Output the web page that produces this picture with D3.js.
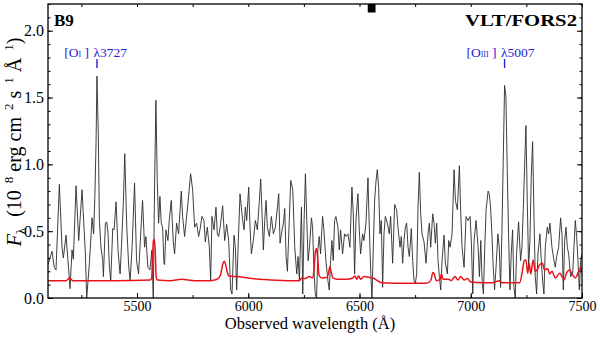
<!DOCTYPE html>
<html>
<head>
<meta charset="utf-8">
<script src="https://cdn.jsdelivr.net/npm/d3@7"></script>
<style>
body { margin: 0; background: #fff; }
text { font-family: "Liberation Serif", serif; }
</style>
</head>
<body>
<div id="main"></div>
<script>
// observed spectrum (Angstrom, 1e-18 erg/cm2/s/A)
const specWave = [5100, 5118, 5128, 5136, 5151, 5163, 5169, 5181, 5193, 5199, 5208, 5214, 5226, 5238, 5253, 5268, 5274, 5286, 5298, 5305, 5311, 5316, 5320, 5326, 5331, 5338, 5346, 5349, 5358, 5364, 5370, 5376, 5382, 5391, 5397, 5406, 5415, 5424, 5430, 5439, 5445, 5454, 5463, 5469, 5478, 5489, 5498, 5507, 5516, 5525, 5534, 5540, 5549, 5558, 5567, 5573, 5579, 5585, 5591, 5597, 5603, 5609, 5615, 5621, 5624, 5630, 5639, 5645, 5654, 5663, 5669, 5678, 5687, 5699, 5705, 5714, 5720, 5729, 5741, 5750, 5759, 5768, 5777, 5783, 5792, 5801, 5807, 5816, 5825, 5831, 5837, 5846, 5855, 5861, 5867, 5876, 5885, 5894, 5903,
  5912, 5921, 5927, 5936, 5942, 5948, 5954, 5963, 5969, 5975, 5981, 5987, 5993, 6002, 6008, 6014, 6023, 6032, 6041, 6050, 6056, 6062, 6068, 6074, 6080, 6086, 6095, 6104, 6113, 6122, 6131, 6137, 6143, 6149, 6158, 6164, 6170, 6176, 6185, 6191, 6200, 6209, 6218, 6224, 6230, 6239, 6245, 6251, 6257, 6263, 6269, 6275, 6284, 6289, 6295, 6301, 6307, 6313, 6319, 6325, 6334, 6340, 6349, 6358, 6364, 6370, 6376, 6382, 6388, 6394, 6403, 6409, 6415, 6424, 6433, 6439, 6448, 6457, 6466, 6472, 6478, 6484, 6493, 6499, 6505, 6514, 6520, 6529, 6538, 6544, 6550, 6556, 6562, 6568, 6574, 6580, 6586, 6592, 6598, 6604, 6610, 6616, 6625, 6634, 6640, 6649, 6658, 6667, 6673, 6682, 6688, 6694, 6700,
  6706, 6712, 6718, 6724, 6733, 6739, 6745, 6751, 6757, 6763, 6769, 6775, 6781, 6790, 6799, 6808, 6814, 6820, 6829, 6835, 6841, 6847, 6853, 6859, 6865, 6871, 6880, 6886, 6895, 6901, 6907, 6916, 6925, 6931, 6940, 6949, 6955, 6961, 6970, 6979, 6988, 6997, 7003, 7009, 7015, 7024, 7033, 7039, 7045, 7051, 7057, 7063, 7069, 7078, 7083, 7089, 7095, 7101, 7107, 7113, 7122, 7128, 7134, 7140, 7146, 7152, 7158, 7164, 7170, 7176, 7182, 7188, 7194, 7200, 7206, 7215, 7224, 7230, 7236, 7242, 7248, 7254, 7260, 7266, 7272, 7278, 7284, 7290, 7296, 7302, 7311, 7317, 7323, 7329, 7335, 7344, 7350, 7356, 7365, 7374, 7380, 7386, 7395, 7404, 7410, 7416, 7422, 7428, 7434, 7440, 7449, 7458, 7464, 7470, 7476, 7482, 7488, 7494, 7500];
const specFlux = [0.25, 0.35, 0.23, 0.21, 0.85, 0.38, 0.30, 0.47, 0.21, 0.07, 0.36, 0.29, 0.84, 0.43, 0.81, 0.33, 0.00, 0.26, 0.60, 0.48, 0.78, 1.16, 1.66, 1.23, 0.58, 0.38, 0.28, 0.16, 0.56, 0.57, 0.48, 0.23, 0.13, 0.52, 0.51, 0.72, 0.35, 0.18, 0.38, 0.73, 1.08, 0.53, 0.23, 0.13, 0.38, 0.86, 0.28, 0.18, 0.46, 0.73, 0.38, 0.46, 0.23, 0.21, 0.36, 0.00, 0.83, 1.48, 0.88, 0.56, 0.76, 0.56, 0.53, 0.26, 0.25, 0.51, 0.43, 0.58, 0.73, 0.42, 0.33, 0.56, 0.48, 0.80, 0.61, 0.46, 0.56, 0.71, 0.93, 0.81, 0.53, 0.56, 0.46, 0.51, 0.61, 0.58, 0.42, 0.53, 0.38, 0.13, 0.61, 0.51, 0.68, 0.48, 0.46, 0.56, 0.69, 0.43, 0.55,
  0.43, 0.06, 0.03, 0.47, 0.38, 0.06, 0.36, 0.78, 0.68, 0.58, 0.51, 0.68, 0.58, 0.83, 0.53, 0.33, 0.43, 0.58, 0.51, 0.73, 0.89, 0.63, 0.36, 0.58, 0.73, 0.53, 0.46, 0.61, 0.48, 0.53, 0.68, 0.78, 0.41, 0.48, 0.56, 0.67, 0.31, 0.20, 0.61, 0.88, 0.81, 0.38, 0.18, 0.31, 0.13, 0.68, 0.03, 0.58, 0.93, 0.58, 0.28, 0.38, 0.60, 0.53, 0.23, 0.03, 0.00, 0.36, 0.46, 0.33, 0.61, 0.51, 0.28, 0.13, 0.06, 0.28, 0.43, 0.28, 0.58, 0.61, 0.53, 0.36, 0.51, 0.33, 0.48, 0.46, 0.48, 0.38, 0.83, 0.63, 0.18, 0.58, 0.78, 0.51, 0.33, 0.48, 0.43, 0.56, 0.90, 0.53, 0.21, 0.00, 0.38, 0.73, 0.87, 0.96, 0.83, 0.48, 0.58, 0.08, 0.48, 0.61, 0.56, 0.48, 0.61, 0.26, 0.70, 0.66, 0.53, 0.38, 0.46, 0.26, 0.43,
  0.53, 0.56, 0.38, 0.31, 0.52, 0.28, 0.13, 0.11, 0.18, 0.68, 0.94, 0.63, 0.48, 0.42, 0.26, 0.48, 0.56, 0.38, 0.63, 0.56, 0.41, 0.56, 0.28, 0.16, 0.06, 0.28, 0.47, 0.26, 0.18, 0.43, 0.38, 0.48, 0.96, 0.73, 0.66, 0.99, 0.63, 0.38, 0.23, 0.61, 0.58, 0.61, 0.41, 0.03, 0.43, 0.58, 0.38, 0.16, 0.43, 0.13, 0.03, 0.38, 0.66, 0.80, 0.78, 0.68, 0.48, 0.23, 0.06, 0.21, 0.48, 0.38, 0.08, 0.48, 1.03, 1.59, 1.51, 0.96, 0.48, 0.06, 0.33, 0.51, 0.08, 0.00, 0.33, 0.57, 0.28, 0.38, 0.66, 0.98, 1.29, 0.73, 0.23, 0.43, 0.91, 1.17, 0.63, 0.16, 0.03, 0.33, 0.48, 0.28, 0.13, 0.03, 0.38, 0.53, 0.48, 0.56, 0.38, 0.28, 0.23, 0.31, 0.38, 0.60, 0.48, 0.06, 0.43, 0.53, 0.38, 0.33, 0.16, 0.18, 0.38, 0.58, 0.46, 0.28, 0.06, 0.28, 0.33];

// error spectrum
const errWave = [5100, 5180, 5190, 5196, 5204, 5210, 5400, 5560, 5566, 5570, 5574, 5578, 5582, 5586, 5592, 5650, 5700, 5760, 5830, 5860, 5875, 5885, 5892, 5898, 5905, 5912, 5950, 6000, 6050, 6100, 6200, 6230, 6240, 6255, 6275, 6290, 6297, 6302, 6307, 6312, 6318, 6330, 6355, 6362, 6367, 6372, 6380, 6400, 6440, 6470, 6480, 6488, 6496, 6505, 6520, 6540, 6560, 6580, 6600, 6700, 6800, 6820, 6830, 6836, 6845, 6862, 6868, 6876, 6900, 6912, 6930, 6942, 6955, 6970, 6985, 7000, 7050, 7100, 7128, 7140, 7220, 7232, 7240, 7248, 7256, 7262, 7270, 7280, 7290, 7300, 7310, 7322, 7332, 7345, 7355, 7365, 7380, 7400, 7410, 7420, 7430, 7445, 7455, 7470, 7485, 7495, 7500];
const errFlux = [0.13, 0.13, 0.14, 0.15, 0.14, 0.13, 0.13, 0.135, 0.15, 0.30, 0.43, 0.44, 0.35, 0.16, 0.135, 0.13, 0.14, 0.13, 0.13, 0.14, 0.17, 0.25, 0.275, 0.25, 0.20, 0.165, 0.16, 0.15, 0.14, 0.135, 0.13, 0.13, 0.15, 0.145, 0.16, 0.15, 0.24, 0.35, 0.37, 0.30, 0.17, 0.15, 0.155, 0.20, 0.235, 0.20, 0.15, 0.14, 0.14, 0.15, 0.165, 0.14, 0.165, 0.14, 0.16, 0.155, 0.15, 0.13, 0.115, 0.11, 0.11, 0.13, 0.19, 0.18, 0.13, 0.14, 0.18, 0.14, 0.14, 0.13, 0.16, 0.135, 0.16, 0.135, 0.145, 0.12, 0.115, 0.115, 0.13, 0.115, 0.115, 0.20, 0.28, 0.285, 0.185, 0.26, 0.18, 0.285, 0.20, 0.215, 0.25, 0.26, 0.21, 0.22, 0.18, 0.20, 0.15, 0.185, 0.16, 0.135, 0.185, 0.21, 0.18, 0.15, 0.20, 0.23, 0.20];

const xMajor = [5500, 6000, 6500, 7000, 7500];
const xMinor = [5250, 5500, 5750, 6000, 6250, 6500, 6750, 7000, 7250, 7500];
const yMajor = [0, 0.5, 1.0, 1.5, 2.0];
const yMinor = d3.range(0, 2.21, 0.1);

const lineNames = ["[O", "I", "]", "\u03bb3727"];
const lineNames2 = ["[O", "III", "]", "\u03bb5007"];
const lineWave = [5320, 7152];
const markerWave = [6537, 6572];

const margin = {top: 4, right: 18, bottom: 40, left: 48};
const width = 600, height = 338;

const x = d3.scaleLinear().domain([5100, 7500]).range([margin.left, width - margin.right]);
const y = d3.scaleLinear().domain([0, 2.2]).range([height - margin.bottom, margin.top]);

const svg = d3.select("#main").append("svg")
    .attr("width", width).attr("height", height);

svg.append("defs").append("clipPath").attr("id", "clip")
    .append("rect")
    .attr("x", margin.left).attr("y", margin.top)
    .attr("width", width - margin.left - margin.right)
    .attr("height", height - margin.top - margin.bottom);

const line = d3.line()
    .x(d => x(d[0]))
    .y(d => y(d[1]));

svg.append("path")
    .datum(specWave.map((w, i) => [w, specFlux[i]]))
    .attr("clip-path", "url(#clip)")
    .attr("fill", "none")
    .attr("stroke", "#2a2a2a")
    .attr("stroke-width", 0.9)
    .attr("d", line);

svg.append("path")
    .datum(errWave.map((w, i) => [w, errFlux[i]]))
    .attr("clip-path", "url(#clip)")
    .attr("fill", "none")
    .attr("stroke", "#e8141c")
    .attr("stroke-width", 1.5)
    .attr("stroke-linejoin", "round")
    .attr("d", d3.line().curve(d3.curveMonotoneX).x(d => x(d[0])).y(d => y(d[1])));

// axes, ticks pointing inwards
const yb = height - margin.bottom, yt = margin.top;
const xl = margin.left, xr = width - margin.right;

svg.append("g")
    .attr("transform", `translate(0,${yb})`)
    .call(d3.axisBottom(x).tickValues(xMajor).tickSizeInner(-5).tickSizeOuter(0).tickPadding(3).tickFormat(d3.format("d")))
    .call(g => g.select(".domain").remove())
    .call(g => g.selectAll("text").attr("font-size", 14).attr("font-family", "Liberation Serif").attr("fill", "#000"));
svg.append("g")
    .attr("transform", `translate(0,${yb})`)
    .call(d3.axisBottom(x).tickValues(xMinor).tickSizeInner(-3).tickSizeOuter(0).tickFormat(""))
    .call(g => g.select(".domain").remove());
svg.append("g")
    .attr("transform", `translate(0,${yt})`)
    .call(d3.axisTop(x).tickValues(xMinor).tickSizeInner(-3).tickSizeOuter(0).tickFormat(""))
    .call(g => g.select(".domain").remove());

svg.append("g")
    .attr("transform", `translate(${xl},0)`)
    .call(d3.axisLeft(y).tickValues(yMajor).tickSizeInner(-5).tickSizeOuter(0).tickPadding(4).tickFormat(d3.format(".1f")))
    .call(g => g.select(".domain").remove())
    .call(g => g.selectAll("text").attr("font-size", 16).attr("font-family", "Liberation Serif").attr("fill", "#000"));
svg.append("g")
    .attr("transform", `translate(${xl},0)`)
    .call(d3.axisLeft(y).tickValues(yMinor).tickSizeInner(-2.5).tickSizeOuter(0).tickFormat(""))
    .call(g => g.select(".domain").remove());
svg.append("g")
    .attr("transform", `translate(${xr},0)`)
    .call(d3.axisRight(y).tickValues(yMinor).tickSizeInner(-2.5).tickSizeOuter(0).tickFormat(""))
    .call(g => g.select(".domain").remove());
svg.append("g")
    .attr("transform", `translate(${xr},0)`)
    .call(d3.axisRight(y).tickValues(yMajor).tickSizeInner(-5).tickSizeOuter(0).tickFormat(""))
    .call(g => g.select(".domain").remove());

svg.selectAll(".tick line").attr("stroke", "#000").attr("stroke-width", 1);

svg.append("rect")
    .attr("x", xl).attr("y", yt)
    .attr("width", xr - xl).attr("height", yb - yt)
    .attr("fill", "none").attr("stroke", "#000").attr("stroke-width", 1.3);

// marker on top edge
svg.append("rect")
    .attr("x", x(markerWave[0])).attr("y", yt)
    .attr("width", x(markerWave[1]) - x(markerWave[0])).attr("height", 8.5)
    .attr("fill", "#000");

// labels inside
svg.append("text")
    .attr("x", xl + 6).attr("y", 26)
    .attr("font-family", "DejaVu Serif").attr("font-weight", "bold").attr("font-size", 17)
    .text("B9");
svg.append("text")
    .attr("x", xr - 5).attr("y", 26)
    .attr("text-anchor", "end")
    .attr("font-family", "DejaVu Serif").attr("font-weight", "bold").attr("font-size", 17)
    .attr("textLength", 112).attr("lengthAdjust", "spacingAndGlyphs")
    .text("VLT/FORS2");

// emission line ids
[lineNames, lineNames2].forEach((parts, i) => {
    const lx = x(lineWave[i]);
    const t = svg.append("text")
        .attr("y", 57)
        .attr("font-size", 13.5)
        .attr("fill", "#2424d8")
        .attr("text-anchor", "end")
        .attr("x", lx - 8)
        .style("white-space", "pre");
    t.append("tspan").text(parts[0]);
    t.append("tspan").attr("font-size", 8).text(parts[1]);
    t.append("tspan").text(" " + parts[2]);
    svg.append("text")
        .attr("x", lx - 3.5).attr("y", 57)
        .attr("font-size", 13.5)
        .attr("fill", "#2424d8")
        .text(parts[3]);
    svg.append("line")
        .attr("x1", lx).attr("x2", lx)
        .attr("y1", 59).attr("y2", 68)
        .attr("stroke", "#2424d8").attr("stroke-width", 1.4);
});

// axis titles
svg.append("text")
    .attr("x", 310).attr("y", 329)
    .attr("text-anchor", "middle")
    .attr("font-size", 16.5)
    .text("Observed wavelength (\u00c5)");

const yt2 = svg.append("text")
    .attr("transform", `translate(21,142) rotate(-90)`)
    .attr("text-anchor", "middle")
    .attr("font-size", 20)
    .style("white-space", "pre");
yt2.append("tspan").attr("font-style", "italic").text("F");
yt2.append("tspan").attr("font-size", 13).attr("dy", 4).text("\u03bb");
yt2.append("tspan").attr("dy", -4).attr("dx", 6).text(" (10");
yt2.append("tspan").attr("font-size", 13).attr("dy", -8).attr("dx", 7).text("8");
yt2.append("tspan").attr("dy", 8).text(" erg cm");
yt2.append("tspan").attr("font-size", 13).attr("dy", -8).attr("dx", 7).text("2");
yt2.append("tspan").attr("dy", 8).text(" s");
yt2.append("tspan").attr("font-size", 13).attr("dy", -8).attr("dx", 7).text("1");
yt2.append("tspan").attr("dy", 8).text(" \u00c5");
yt2.append("tspan").attr("font-size", 13).attr("dy", -8).attr("dx", 7).text("1");
yt2.append("tspan").attr("dy", 8).text(")");
</script>
</body>
</html>
